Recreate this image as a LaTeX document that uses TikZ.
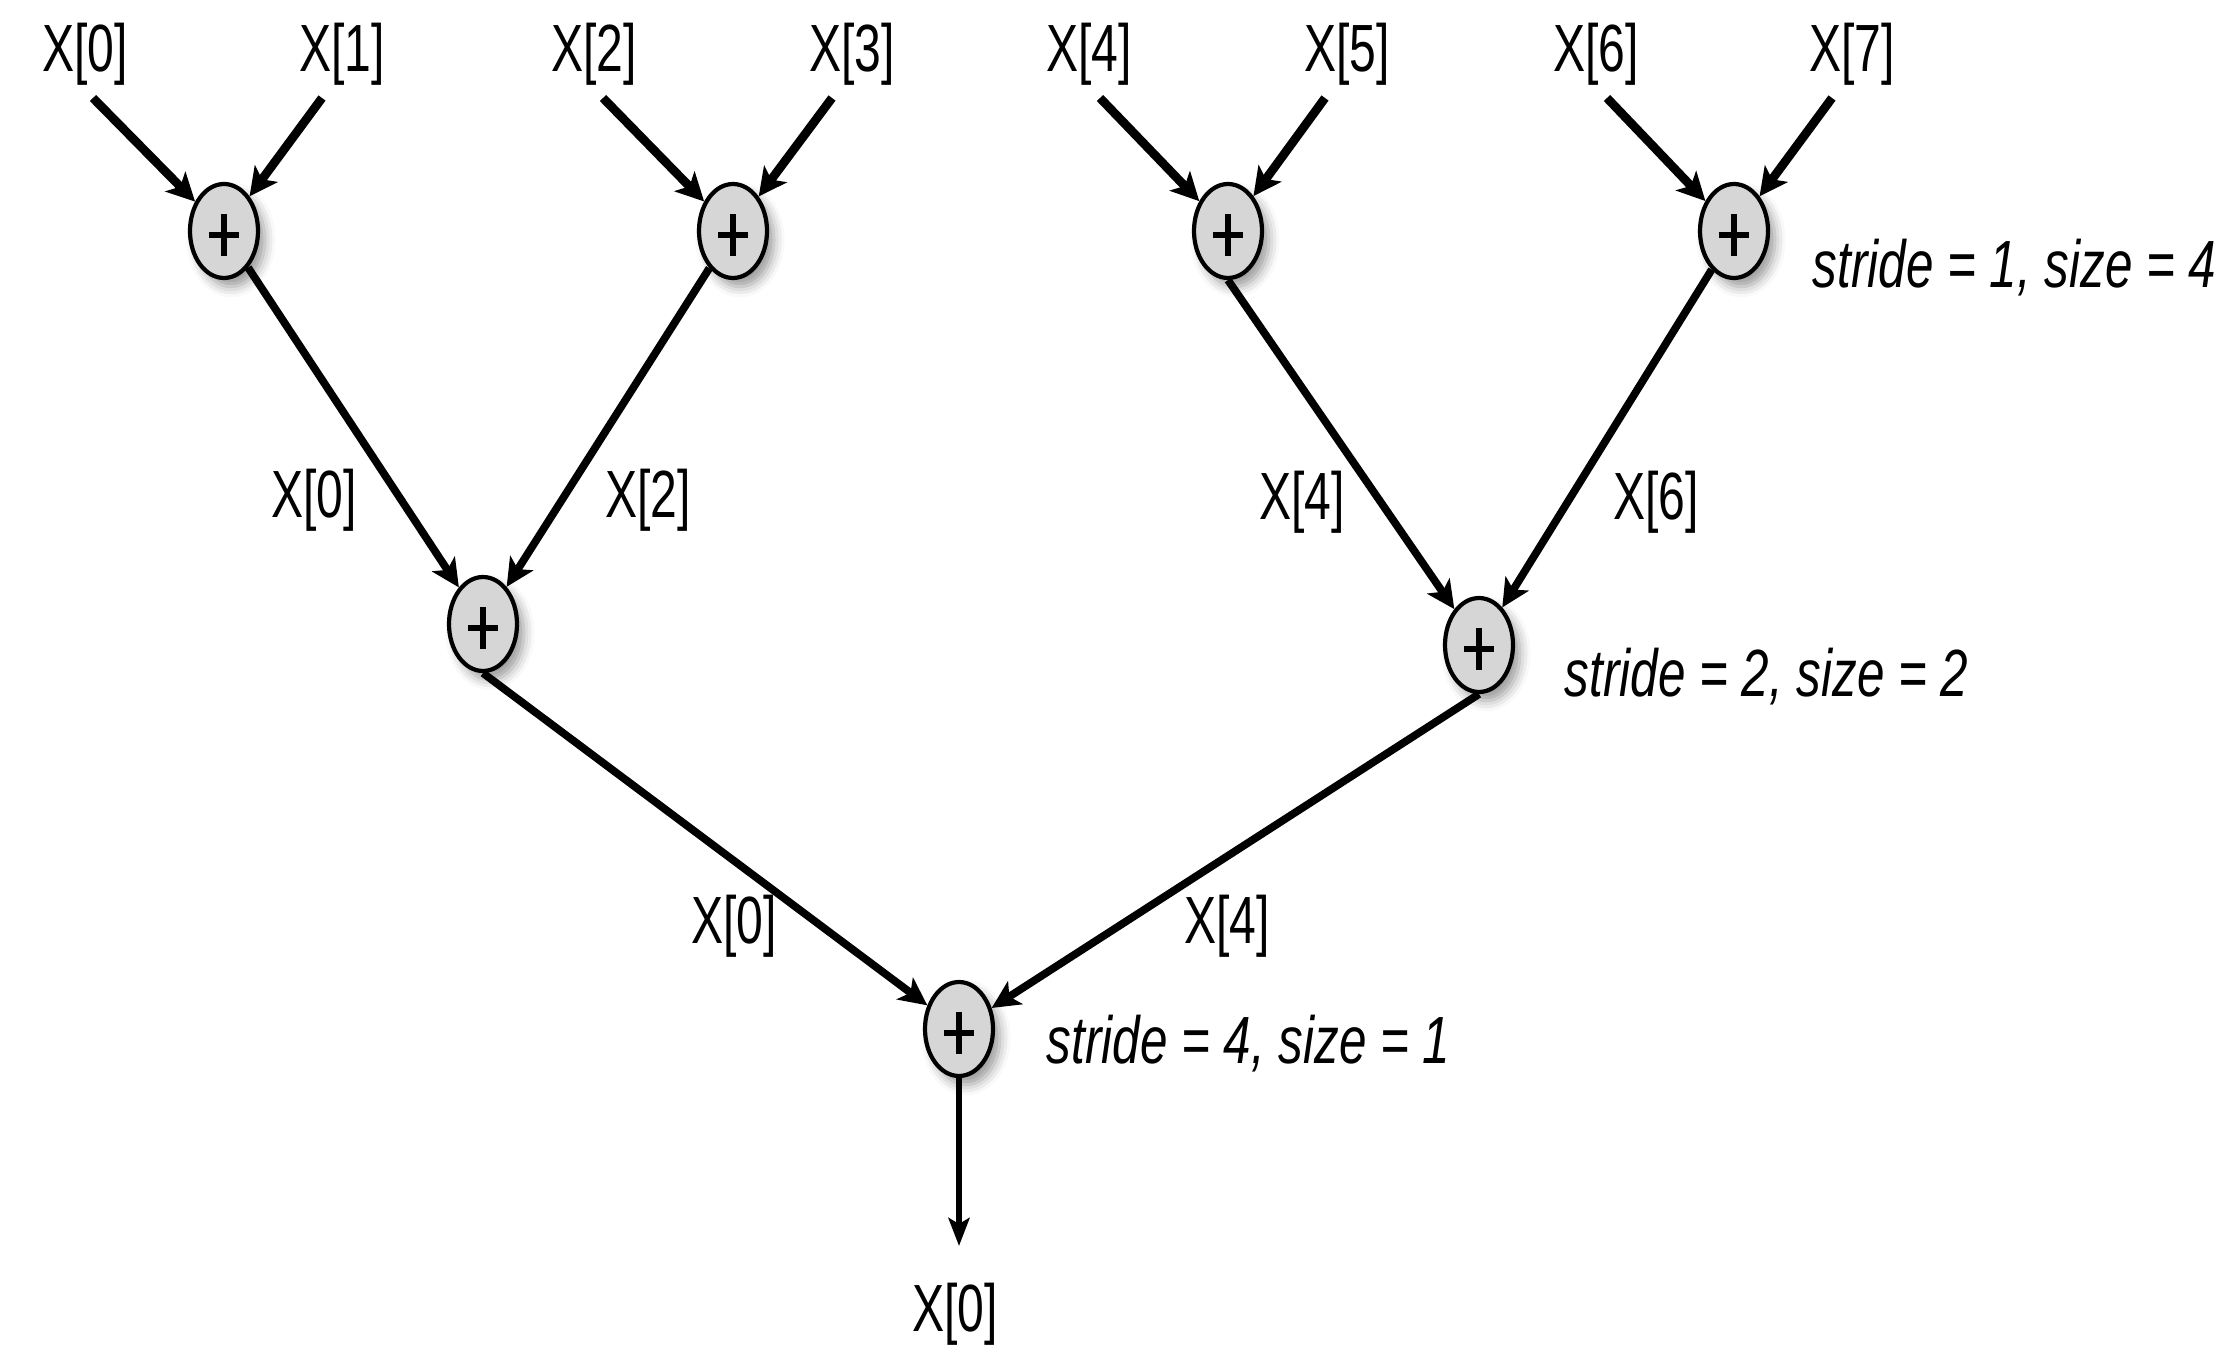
\documentclass[tikz,border=0pt]{standalone}
\usepackage{fontspec}
\setmainfont[FakeStretch=0.72]{Liberation Sans}
\newfontfamily\notefont[FakeStretch=0.74]{Liberation Sans}
\usetikzlibrary{arrows.meta, shapes.geometric, shadows.blur}

\tikzset{
  adder/.style={ellipse, draw, line width=1.2pt, fill=black!16,
    minimum width=0.68cm, minimum height=0.94cm, inner sep=0pt,
    blur shadow={shadow xshift=2pt, shadow yshift=-2.5pt,
      shadow blur radius=3pt, shadow opacity=40},
    path picture={\draw[line width=1.7pt]
      ([xshift=-0.15cm,yshift=-0.04cm]path picture bounding box.center) --
      ([xshift=0.15cm,yshift=-0.04cm]path picture bounding box.center)
      ([yshift=-0.25cm]path picture bounding box.center) --
      ([yshift=0.17cm]path picture bounding box.center);}},
  feed/.style={line width=2.5pt, -{Stealth[length=0.28cm, width=0.28cm, inset=0.07cm]}},
  link/.style={line width=2.2pt, -{Stealth[length=0.28cm, width=0.27cm, inset=0.07cm]}},
  outarr/.style={line width=1.6pt, -{Stealth[length=0.28cm, width=0.21cm, inset=0.06cm]}},
  lbl/.style={font=\fontsize{19}{23}\selectfont, inner sep=0pt},
  note/.style={font=\notefont\itshape\fontsize{19}{23}\selectfont, anchor=west, inner sep=0pt}
}

\begin{document}
\begin{tikzpicture}
\useasboundingbox (0,0) rectangle (22.34,-13.46);
% Adders
\node[adder] (p0) at (2.24,-2.31) {};
\node[adder] (p1) at (7.33,-2.31) {};
\node[adder] (p2) at (12.28,-2.31) {};
\node[adder] (p3) at (17.34,-2.31) {};
\node[adder] (q0) at (4.83,-6.24) {};
\node[adder] (q1) at (14.79,-6.45) {};
\node[adder] (r) at (9.59,-10.29) {};
% Inputs
\foreach \i/\lx/\sx in {0/0.85/0.93, 1/3.42/3.22, 2/5.94/6.03, 3/8.52/8.32,
                        4/10.89/11.00, 5/13.47/13.25, 6/15.96/16.07, 7/18.52/18.32} {
  \node[lbl] (x\i) at (\lx,-0.54) {X[\i]};
  \coordinate (s\i) at (\sx,-0.98);
}
\draw[feed] (s0) -- (p0);
\draw[feed] (s1) -- (p0);
\draw[feed] (s2) -- (p1);
\draw[feed] (s3) -- (p1);
\draw[feed] (s4) -- (p2);
\draw[feed] (s5) -- (p2);
\draw[feed] (s6) -- (p3);
\draw[feed] (s7) -- (p3);
% Partial sums
\draw[link] (p0) -- (q0);
\draw[link] (p1) -- (q0);
\draw[link] (p2.south) -- (q1);
\draw[link] (p3.240) -- (q1);
\draw[link] (q0.south) -- (r);
\draw[link] (q1.south) -- (r);
\node[lbl] (e0) at (3.14,-5.00) {X[0]};
\node[lbl] (e2) at (6.48,-5.00) {X[2]};
\node[lbl] (e4) at (13.02,-5.02) {X[4]};
\node[lbl] (e6) at (16.56,-5.02) {X[6]};
\node[lbl] (f0) at (7.34,-9.26) {X[0]};
\node[lbl] (f4) at (12.27,-9.26) {X[4]};
% Result
\coordinate (out) at (9.59,-12.46);
\draw[outarr] (r) -- (out);
\node[lbl] (res) at (9.55,-13.14) {X[0]};
% Notes
\node[note] (n1) at (18.12,-2.68) {stride = 1, size = 4};
\node[note] (n2) at (15.64,-6.77) {stride = 2, size = 2};
\node[note] (n3) at (10.46,-10.44) {stride = 4, size = 1};
\end{tikzpicture}
\end{document}
